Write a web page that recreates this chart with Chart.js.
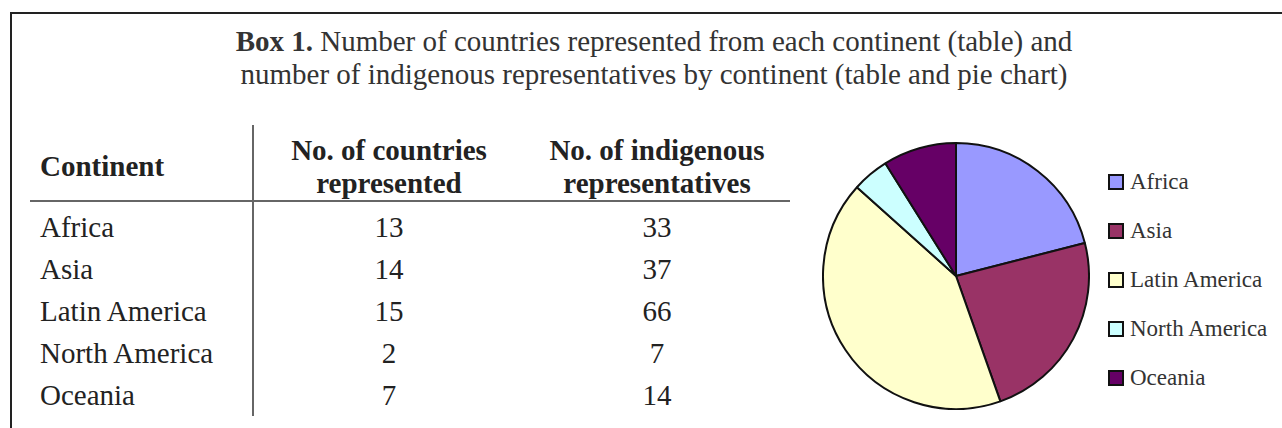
<!DOCTYPE html>
<html>
<head>
<meta charset="utf-8">
<script src="https://cdn.jsdelivr.net/npm/chart.js@4.4.1/dist/chart.umd.min.js"></script>
<style>
  html, body { margin: 0; padding: 0; background: #fff; }
  body { width: 1282px; height: 428px; position: relative; overflow: hidden;
         font-family: 'Liberation Serif', 'Times New Roman', serif; color: #222; }
  #frame { position: absolute; left: 10px; top: 12px; right: -10px; bottom: -10px;
           border-left: 2px solid #222; border-top: 2px solid #222; }
  #title { position: absolute; left: 0; width: 1308px; top: 25px; text-align: center;
           font-size: 29px; line-height: 33px; color: #333; }
  #tbl { position: absolute; left: 30px; top: 125px; border-collapse: collapse; font-size: 29px; color: #222; }
  #tbl th { font-weight: bold; height: 67px; padding: 8px 0 0 0; vertical-align: middle;
            line-height: 33px; border-bottom: 2px solid #666; }
  #tbl td { height: 42px; line-height: 42px; padding: 0; }
  #tbl tr.first td { padding-top: 4px; }
  #tbl .c0 { width: 212px; text-align: left; padding-left: 10px; border-right: 2px solid #666; }
  #tbl .c1 { width: 270px; text-align: center; }
  #tbl .c2 { width: 266px; text-align: center; }
  #pieBox { position: absolute; left: 822px; top: 142px; width: 268px; height: 268px; }
  #legend { position: absolute; left: 1108px; top: 157px; margin: 0; padding: 0; list-style: none;
            font-size: 23px; color: #333; }
  #legend li { height: 49px; display: flex; align-items: center; }
  #legend .sw { width: 12px; height: 12px; border: 2px solid #111; margin-right: 6px; }
</style>
</head>
<body>
<div id="frame"></div>
<div id="title"><b>Box 1.</b> Number of countries represented from each continent (table) and<br>number of indigenous representatives by continent (table and pie chart)</div>
<table id="tbl"></table>
<div id="pieBox"><canvas id="pieChart"></canvas></div>
<ul id="legend"></ul>
<script>
// table + pie data
const continents = ['Africa', 'Asia', 'Latin America', 'North America', 'Oceania'];
const countriesRepresented = [13, 14, 15, 2, 7];
const indigenousReps = [33, 37, 66, 7, 14];
const headers = ['Continent', 'No. of countries<br>represented', 'No. of indigenous<br>representatives'];
const sliceColors = ['#9999ff', '#993366', '#ffffcc', '#ccffff', '#660066'];

// build the table
const tbl = document.getElementById('tbl');
let html = '<tr>' + headers.map((h, i) => '<th class="c' + i + '">' + h + '</th>').join('') + '</tr>';
continents.forEach((c, i) => {
    html += '<tr' + (i === 0 ? ' class="first"' : '') + '>' +
        '<td class="c0">' + c + '</td>' +
        '<td class="c1">' + countriesRepresented[i] + '</td>' +
        '<td class="c2">' + indigenousReps[i] + '</td></tr>';
});
tbl.innerHTML = html;

// html legend built from the chart's own legend items
const htmlLegend = {
    id: 'htmlLegend',
    afterUpdate(chart) {
        const ul = document.getElementById('legend');
        ul.innerHTML = '';
        const items = chart.options.plugins.legend.labels.generateLabels(chart);
        items.forEach(item => {
            const li = document.createElement('li');
            const sw = document.createElement('span');
            sw.className = 'sw';
            sw.style.background = item.fillStyle;
            li.appendChild(sw);
            li.appendChild(document.createTextNode(item.text));
            ul.appendChild(li);
        });
    }
};

const ctx = document.getElementById('pieChart').getContext('2d');
new Chart(ctx, {
    type: 'pie',
    data: {
        labels: continents,
        datasets: [{
            data: indigenousReps,
            backgroundColor: sliceColors,
            borderColor: '#111',
            borderWidth: 2,
            hoverOffset: 0
        }]
    },
    options: {
        responsive: true,
        maintainAspectRatio: false,
        animation: false,
        layout: { padding: 0 },
        plugins: {
            legend: { display: false },
            tooltip: { enabled: false }
        }
    },
    plugins: [htmlLegend]
});
</script>
</body>
</html>
